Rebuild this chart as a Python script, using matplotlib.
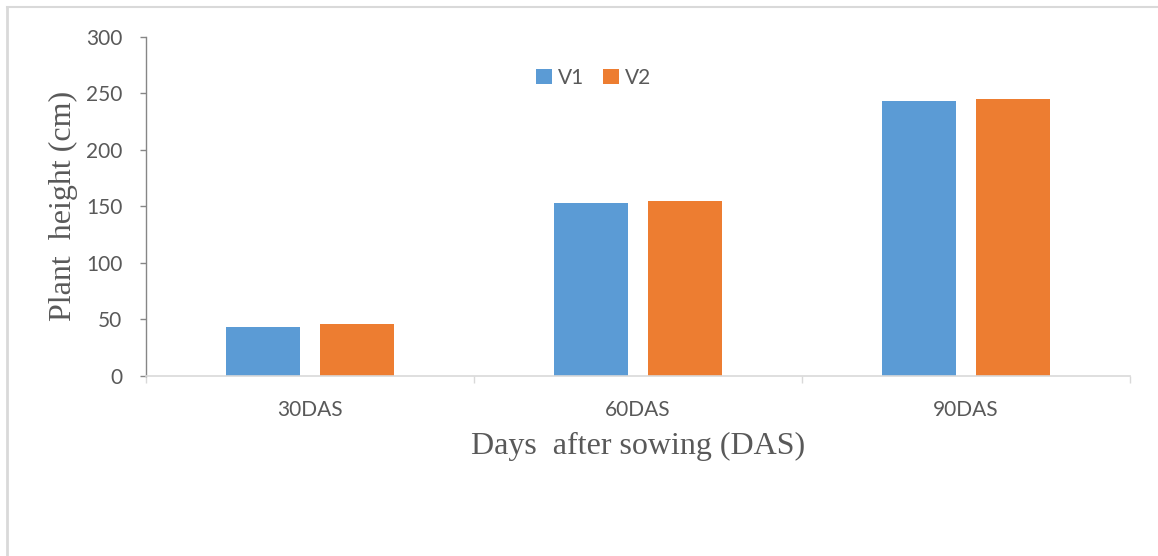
import matplotlib
matplotlib.use("Agg")
import matplotlib.pyplot as plt
import numpy as np
from matplotlib.lines import Line2D

categories = ["30DAS", "60DAS", "90DAS"]
v1_heights = [43, 152.5, 243]
v2_heights = [45.5, 155, 245]
series_names = ["V1", "V2"]
y_ticks = [0, 50, 100, 150, 200, 250, 300]

blue = "#5b9bd5"
orange = "#ed7d31"
text_gray = "#595959"

fig = plt.figure(figsize=(11.58, 5.56), dpi=100)
ax = fig.add_axes([146 / 1158, 1 - 375.5 / 556, (1130 - 146) / 1158, (375.5 - 37) / 556])

x = np.arange(len(categories))
width = 0.226
offset = 0.143
ax.bar(x - offset, v1_heights, width, color=blue, label=series_names[0], zorder=2)
ax.bar(x + offset, v2_heights, width, color=orange, label=series_names[1], zorder=2)

ax.set_xlim(-0.5, len(categories) - 0.5)
ax.set_ylim(0, 300)
ax.set_yticks(y_ticks)
ax.set_yticklabels([str(t) for t in y_ticks])
ax.set_xticks(x)
ax.set_xticklabels(categories)
ax.set_xticks(np.arange(-0.5, len(categories)), minor=True)

tick_font = "Lato"
for lbl in ax.get_xticklabels() + ax.get_yticklabels():
    lbl.set_fontfamily(tick_font)
    lbl.set_fontsize(15)
    lbl.set_color(text_gray)

ax.tick_params(axis="x", which="major", length=0, pad=18)
ax.tick_params(axis="x", which="minor", length=5, width=1, color="#d9d9d9", direction="out")
ax.tick_params(axis="y", which="major", length=4, width=1, color="#868686", direction="out", pad=13)

for side in ["top", "right"]:
    ax.spines[side].set_visible(False)
ax.spines["left"].set_color("#868686")
ax.spines["left"].set_linewidth(1)
ax.spines["bottom"].set_color("#d9d9d9")
ax.spines["bottom"].set_linewidth(1.2)

ax.set_ylabel("Plant  height (cm)", fontfamily="Liberation Serif", fontsize=23,
              color=text_gray, labelpad=6)
ax.set_xlabel("Days  after sowing (DAS)", fontfamily="Liberation Serif", fontsize=23,
              color=text_gray, labelpad=8)

leg = ax.legend(loc="upper center", bbox_to_anchor=(0.455, 0.965), ncol=2, frameon=False,
                handlelength=0.75, handleheight=0.75, handletextpad=0.3, columnspacing=0.9,
                prop={"family": tick_font, "size": 15})
for t in leg.get_texts():
    t.set_color(text_gray)

# outer frame lines
fig.add_artist(Line2D([7 / 1158, 7 / 1158], [0, 1 - 7 / 556], transform=fig.transFigure,
                      color="#d9d9d9", linewidth=2))
fig.add_artist(Line2D([7 / 1158, 1], [1 - 7 / 556, 1 - 7 / 556], transform=fig.transFigure,
                      color="#d9d9d9", linewidth=1.5))

fig.savefig("out.png", dpi=100, facecolor="white")
